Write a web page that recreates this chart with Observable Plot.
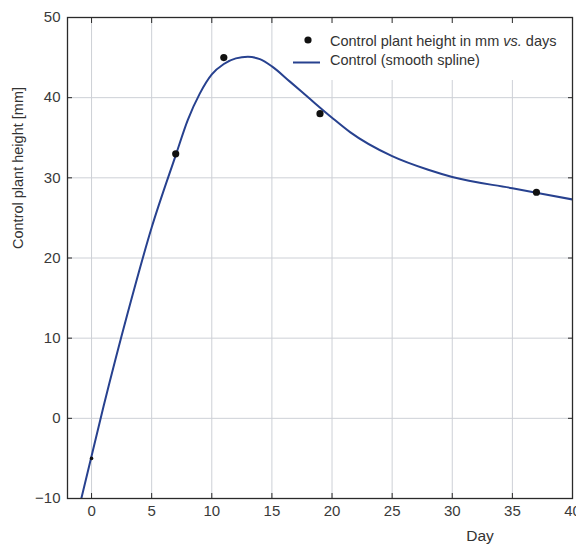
<!DOCTYPE html>
<html>
<head>
<meta charset="utf-8">
<script src="https://cdn.jsdelivr.net/npm/d3@7"></script>
<script src="https://cdn.jsdelivr.net/npm/@observablehq/plot@0.6"></script>
<style>
  html, body { margin: 0; padding: 0; background: #fff; }
</style>
</head>
<body>
<div id="chart"></div>
<script>
// Measured data points (day, height in mm)
const days = [0, 7, 11, 19, 37];
const heights = [-5, 33, 45, 38, 28.2];

// Smoothing spline, knots
const splineDays = [-0.85, 1, 3, 5, 7, 8, 9, 10, 11, 12, 13, 14, 15, 16.5, 18.2, 20, 21.5, 25, 28, 30, 35, 40];
const splineHeights = [-10, 1.5, 13.1, 23.8, 32.8, 37.2, 40.5, 42.9, 44.2, 44.9, 45.1, 44.8, 43.9, 42.0, 39.8, 37.5, 35.7, 32.7, 31.0, 30.1, 28.7, 27.3];

const xTicks = [0, 5, 10, 15, 20, 25, 30, 35, 40];
const yTicks = [-10, 0, 10, 20, 30, 40, 50];
const xGrid = [0, 5, 10, 15, 20, 25, 30, 35];
const yGrid = [0, 10, 20, 30, 40];

const xLabel = "Day";
const yLabel = "Control plant height [mm]";
const legendLabels = ["Control plant height in mm ", "vs.", " days", "Control (smooth spline)"];

const points = days.map((d, i) => ({day: d, h: heights[i]}));
const spline = splineDays.map((d, i) => ({day: d, h: splineHeights[i]}));

const lineColor = "#27418f";
const gridColor = "#cdd0d6";
const frameColor = "#2a2a2a";
const textColor = "#333";
const font = "'Liberation Sans', Arial, Helvetica, sans-serif";
const fmt = d => d < 0 ? "\u2212" + Math.abs(d) : String(d);

const plot = Plot.plot({
  width: 576,
  height: 544,
  marginLeft: 67,
  marginRight: 4,
  marginTop: 17,
  marginBottom: 46,
  style: {fontFamily: font, fontSize: "15px", color: textColor, background: "#fff"},
  x: {domain: [-2, 40]},
  y: {domain: [-10, 50]},
  marks: [
    Plot.gridX(xGrid, {stroke: gridColor, strokeOpacity: 1, strokeWidth: 1}),
    Plot.gridY(yGrid, {stroke: gridColor, strokeOpacity: 1, strokeWidth: 1}),
    Plot.line(spline, {x: "day", y: "h", stroke: lineColor, strokeWidth: 2, curve: "monotone-x", clip: true}),
    Plot.dot(points, {x: "day", y: "h", fill: "#111", r: 3.6, filter: (d, i) => i > 0}),
    Plot.dot(points, {x: "day", y: "h", fill: "#111", r: 1.8, filter: (d, i) => i === 0}),
    Plot.frame({stroke: frameColor, strokeWidth: 1.3}),
    Plot.axisX(xTicks, {anchor: "bottom", tickSize: 0, tickPadding: 7, tickFormat: fmt, label: null, color: "#3a3a3a"}),
    Plot.axisX(xTicks, {anchor: "bottom", tickSize: -5, fill: "none", label: null, stroke: frameColor}),
    Plot.axisX(xTicks, {anchor: "top", tickSize: -5, fill: "none", label: null, stroke: frameColor}),
    Plot.axisY(yTicks, {anchor: "left", tickSize: 0, tickPadding: 7, tickFormat: fmt, color: "#3a3a3a", label: null}),
    Plot.axisY(yTicks, {anchor: "left", tickSize: -5, fill: "none", label: null, stroke: frameColor}),
    Plot.axisY(yTicks, {anchor: "right", tickSize: -5, fill: "none", label: null, stroke: frameColor}),
    Plot.text([xLabel], {text: d => d, frameAnchor: "bottom", textAnchor: "middle", dx: 160, dy: 38, lineAnchor: "middle", fill: textColor, fontSize: 15.5}),
    Plot.text([yLabel], {text: d => d, frameAnchor: "left", textAnchor: "middle", rotate: -90, dx: -49, dy: -90, lineAnchor: "middle", fill: textColor, fontSize: 14.5})
  ]
});

document.getElementById("chart").appendChild(plot);

// Legend
const svg = d3.select(plot);
const lineNode = plot.querySelector('[aria-label="line"]');
const bg = document.createElementNS("http://www.w3.org/2000/svg", "rect");
bg.setAttribute("x", 288); bg.setAttribute("y", 18);
bg.setAttribute("width", 283); bg.setAttribute("height", 62);
bg.setAttribute("fill", "#fff");
lineNode.parentNode.insertBefore(bg, lineNode);

const leg = svg.append("g").attr("font-family", font).attr("font-size", 14.5).attr("fill", textColor).attr("text-anchor", "start");
leg.append("circle").attr("cx", 308).attr("cy", 40).attr("r", 3.6).attr("fill", "#111");
const t1 = leg.append("text").attr("x", 330).attr("y", 41.5).attr("dominant-baseline", "middle");
t1.append("tspan").text(legendLabels[0]);
t1.append("tspan").attr("font-style", "italic").text(legendLabels[1]);
t1.append("tspan").text(legendLabels[2]);
leg.append("line").attr("x1", 293).attr("x2", 320).attr("y1", 62.5).attr("y2", 62.5).attr("stroke", lineColor).attr("stroke-width", 2);
leg.append("text").attr("x", 330).attr("y", 61.5).attr("dominant-baseline", "middle").text(legendLabels[3]);
</script>
</body>
</html>
